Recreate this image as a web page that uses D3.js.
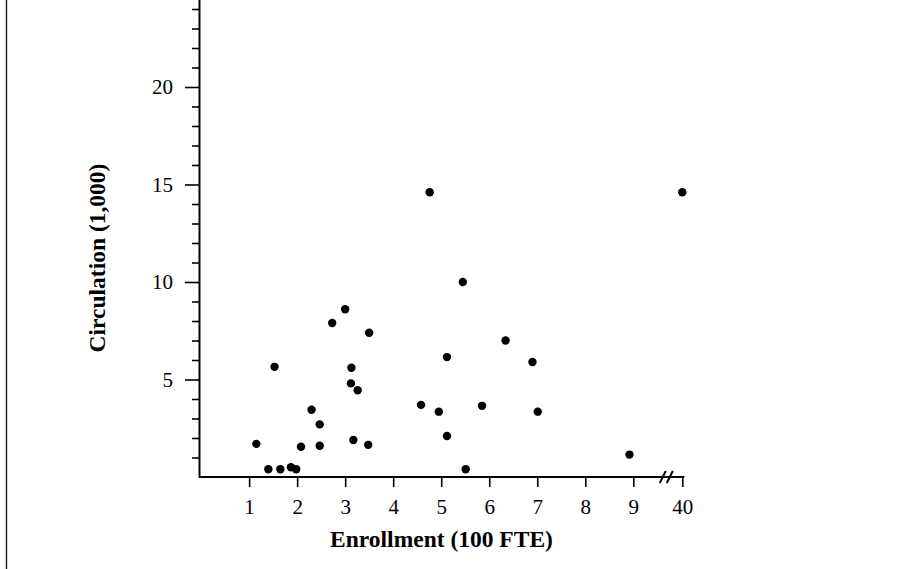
<!DOCTYPE html>
<html>
<head>
<meta charset="utf-8">
<script src="https://cdn.jsdelivr.net/npm/d3@7"></script>
<style>
  body { margin: 0; background: #fff; }
  svg { display: block; }
  .tick text { font-family: "Liberation Serif", "Times New Roman", serif; font-size: 21px; fill: #000; }
  .axis-title { font-family: "Liberation Serif", "Times New Roman", serif; font-size: 23.5px; font-weight: bold; fill: #000; }
</style>
</head>
<body>
<svg id="chart"></svg>
<script>
// data: enrollment (100 FTE) vs circulation (1,000)
const enrollment = [1.15, 1.4, 1.65, 1.87, 1.98, 1.53, 2.08, 2.3, 2.47, 2.47, 2.73, 3.0, 3.13, 3.12, 3.26, 3.17,
    3.48, 3.5, 4.58, 4.76, 4.95, 5.12, 5.12, 5.45, 5.51, 5.85, 6.34, 6.9, 7.01, 8.92, 40];
const circulation = [1.7, 0.4, 0.4, 0.5, 0.4, 5.65, 1.55, 3.45, 2.7, 1.6, 7.9, 8.6, 5.6, 4.8, 4.45, 1.9,
    1.65, 7.4, 3.7, 14.6, 3.35, 6.15, 2.1, 10.0, 0.4, 3.65, 7.0, 5.9, 3.35, 1.15, 14.6];
const xTicks = [1, 2, 3, 4, 5, 6, 7, 8, 9, 40];
const yMajor = [5, 10, 15, 20, 25];
const yMinor = d3.range(1, 25).filter(v => v % 5 !== 0);

const width = 903;
const height = 569;

const svg = d3.select("#chart")
    .attr("width", width)
    .attr("height", height);

// left frame line
svg.append("line")
    .attr("x1", 6.5).attr("x2", 6.5)
    .attr("y1", 0).attr("y2", height)
    .attr("stroke", "#222")
    .attr("stroke-width", 1.4);

// x is broken between 9 and 40
const x = d3.scaleLinear()
    .domain([0, 9, 40])
    .range([201.1, 633.3, 682.3]);

const y = d3.scaleLinear()
    .domain([0, 25])
    .range([477, 477 - 25 * 19.5]);

const axisX = 199;
const axisY = 477;

// y axis - minor ticks first
svg.append("g")
    .attr("transform", `translate(${axisX},0)`)
    .call(d3.axisLeft(y).tickValues(yMinor).tickSize(7).tickSizeOuter(0).tickFormat(""))
    .call(g => g.select(".domain").remove())
    .call(g => g.selectAll("line").attr("stroke", "#000").attr("stroke-width", 1.6));

svg.append("g")
    .attr("transform", `translate(${axisX},0)`)
    .call(d3.axisLeft(y).tickValues(yMajor).tickSize(14).tickPadding(12).tickSizeOuter(0))
    .call(g => g.select(".domain").attr("stroke", "#000").attr("stroke-width", 2))
    .call(g => g.selectAll("line").attr("stroke", "#000").attr("stroke-width", 1.6))
    .call(g => g.selectAll("text").attr("font-size", null).attr("font-family", null));

// x axis
const gx = svg.append("g")
    .attr("transform", `translate(0,${axisY})`)
    .call(d3.axisBottom(x).tickValues(xTicks).tickSize(10).tickSizeOuter(0))
    .call(g => g.select(".domain").remove())
    .call(g => g.selectAll("line").attr("stroke", "#000").attr("stroke-width", 1.6))
    .call(g => g.selectAll("text")
        .attr("font-size", null).attr("font-family", null)
        .attr("y", 37).attr("dy", null));

gx.append("line")
    .attr("x1", axisX).attr("x2", x(40) + 2)
    .attr("y1", 0).attr("y2", 0)
    .attr("stroke", "#000")
    .attr("stroke-width", 2);

// break marks
const bx = (x(9) + x(40)) / 2 + 9;
[-4, 3].forEach(off => {
    gx.append("line")
        .attr("x1", bx + off - 3).attr("y1", 6)
        .attr("x2", bx + off + 3).attr("y2", -6)
        .attr("stroke", "#000")
        .attr("stroke-width", 2);
});

// points
svg.append("g")
    .selectAll("circle")
    .data(enrollment.map((e, i) => ({e: e, c: circulation[i]})))
    .enter()
    .append("circle")
    .attr("cx", d => x(d.e))
    .attr("cy", d => y(d.c))
    .attr("r", 4.2)
    .attr("fill", "#000");

// axis titles
svg.append("text")
    .attr("class", "axis-title")
    .attr("x", 441.5)
    .attr("y", 547)
    .attr("text-anchor", "middle")
    .text("Enrollment (100 FTE)");

svg.append("text")
    .attr("class", "axis-title")
    .attr("transform", "translate(105,258) rotate(-90)")
    .attr("text-anchor", "middle")
    .text("Circulation (1,000)");
</script>
</body>
</html>
